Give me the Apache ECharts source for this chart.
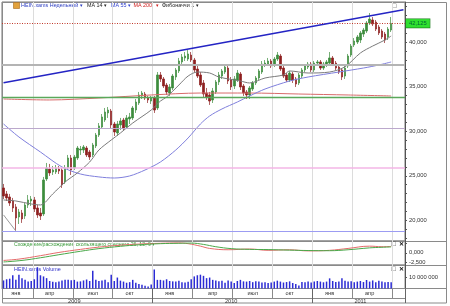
<!DOCTYPE html>
<html><head><meta charset="utf-8">
<script src="https://cdn.jsdelivr.net/npm/echarts@6/dist/echarts.min.js"></script>
<style>html,body{margin:0;padding:0;background:#fff}#c{width:450px;height:306px}</style>
</head><body><div id="c"></div>
<script>
// ---- data (weekly bars, HEIN.xams) ----
const startDate = [2009, 0, 19];
const weeksOnAxis = 131;
const openP = [23.63,22.96,22.62,22.17,21.50,20.37,20.82,20.48,21.72,22.17,
 22.28,21.38,20.82,20.71,24.64,25.76,25.43,25.43,25.76,25.65,
 24.30,25.88,27.00,25.88,27.00,27.90,27.90,28.12,27.67,27.34,
 28.35,29.58,30.48,31.27,32.06,32.28,30.82,29.81,30.71,31.27,
 30.48,31.38,31.50,32.39,33.18,33.97,34.19,33.74,33.40,33.74,
 32.62,36.33,35.88,35.20,34.30,34.87,36.10,36.78,37.79,38.24,
 38.12,38.57,38.01,37.00,36.33,35.43,34.30,34.08,33.52,34.42,
 35.54,36.21,36.66,37.11,35.76,35.09,35.76,36.44,35.09,34.42,
 34.08,34.75,35.43,35.99,36.66,37.56,37.56,37.90,37.45,38.12,
 38.46,37.11,36.33,35.76,36.44,35.88,35.43,36.21,36.89,37.22,
 37.56,36.89,37.67,37.79,37.11,37.56,37.67,38.24,37.67,37.22,
 36.89,36.21,37.34,38.57,39.70,40.03,40.26,40.93,41.27,42.17,
 42.51,42.28,41.72,41.27,40.93,40.60,41.38];
const closeP = [22.73,22.51,21.94,21.38,20.26,20.93,20.15,21.72,22.28,22.39,
 21.27,20.60,20.48,24.53,25.88,25.32,25.65,25.88,25.54,23.97,
 25.88,27.00,25.65,27.11,28.12,28.01,28.24,27.34,27.11,28.46,
 29.58,30.60,31.61,32.17,32.39,30.71,29.92,30.82,31.16,30.37,
 31.50,31.61,32.62,33.29,34.08,34.30,33.74,33.52,33.74,32.39,
 36.33,35.88,35.09,34.42,34.98,36.21,36.89,37.90,38.35,38.46,
 38.69,38.01,36.89,36.21,35.20,34.19,33.85,33.40,34.53,35.54,
 36.33,36.78,37.22,35.65,34.98,35.88,36.55,34.98,34.30,34.08,
 34.87,35.43,35.99,36.78,37.56,37.67,37.90,37.34,38.12,38.57,
 37.00,36.21,35.76,36.55,35.76,35.31,36.33,36.89,37.34,37.56,
 36.89,37.67,37.79,37.11,37.56,37.79,38.24,37.56,37.11,36.66,
 36.10,37.11,38.46,39.58,40.15,40.60,41.05,41.38,42.17,42.62,
 42.06,41.49,41.05,40.60,40.26,41.49,42.125];
const lowP = [22.39,22.17,21.61,20.93,18.80,19.58,19.70,20.15,21.38,21.61,
 20.93,20.26,20.03,20.48,24.42,24.98,25.09,25.20,25.20,23.63,
 24.08,25.65,25.09,25.65,26.78,27.34,27.56,27.11,26.78,27.11,
 28.12,29.36,30.37,31.05,31.50,30.37,29.47,29.47,30.15,30.03,
 30.26,30.82,31.27,32.06,32.96,33.63,33.52,33.18,33.07,32.06,
 32.39,35.54,34.87,34.08,33.97,34.64,35.76,36.55,37.56,37.90,
 37.90,37.79,36.66,35.99,34.98,33.85,33.52,32.96,33.18,34.19,
 35.20,35.88,36.44,35.31,34.64,34.75,35.54,34.64,33.97,33.63,
 33.63,34.53,35.20,35.76,36.44,37.22,37.34,37.11,37.22,37.90,
 36.78,35.99,35.54,35.54,35.43,34.98,35.20,35.99,36.66,37.00,
 36.66,36.66,37.34,36.89,36.89,37.22,37.45,37.34,36.89,36.44,
 35.76,35.88,37.11,38.35,39.47,39.81,39.92,40.60,41.05,41.94,
 41.83,41.27,40.82,40.37,39.92,40.26,41.16];
const highP = [24.08,23.29,22.96,22.51,21.83,21.27,21.16,21.94,22.84,22.73,
 22.62,21.72,21.38,24.87,26.44,26.33,26.10,26.21,26.10,25.88,
 26.21,27.34,27.34,27.34,28.35,28.35,28.46,28.35,27.90,28.69,
 29.81,30.93,31.94,32.62,32.73,32.51,31.05,31.16,31.50,31.50,
 31.83,32.06,32.84,33.63,34.42,34.53,34.42,33.97,33.97,33.97,
 36.66,36.66,36.10,35.43,35.31,36.44,37.11,38.24,38.69,38.91,
 39.13,38.91,38.24,37.34,36.66,35.76,34.87,34.42,34.87,35.76,
 36.66,37.00,37.56,37.34,36.10,36.21,36.89,36.66,35.31,34.64,
 35.09,35.65,36.21,37.00,37.90,38.01,38.24,38.12,38.35,38.91,
 38.69,37.34,36.55,36.78,36.66,36.10,36.55,37.11,37.56,37.79,
 37.79,37.90,38.01,38.01,37.79,38.01,38.91,38.46,37.90,37.45,
 37.11,37.34,38.69,39.81,40.48,40.82,41.27,41.61,42.39,43.29,
 42.84,42.51,41.94,41.49,41.16,41.72,42.84];
const volumeM = [7.0,8.0,8.5,11.5,7.5,12.0,9.0,7.5,6.0,6.5,
 8.0,18.5,11.5,10.5,9.0,6.5,5.8,5.5,6.0,7.0,
 7.5,7.5,7.2,7.5,6.0,6.2,7.0,7.8,6.5,15.5,
 7.5,6.5,7.0,7.5,5.5,12.0,6.5,9.5,6.8,6.0,
 5.0,5.5,7.5,5.0,4.0,3.2,2.4,1.8,3.5,16.5,
 7.5,7.5,7.0,8.0,6.5,6.2,6.0,6.8,5.5,5.2,
 5.8,8.0,10.5,11.5,12.0,11.0,9.0,9.5,7.5,7.0,
 6.2,6.8,5.0,7.0,6.0,4.8,6.5,7.5,6.2,6.0,
 6.5,5.5,6.2,6.0,5.2,5.5,4.8,5.2,6.0,6.8,
 6.0,5.2,5.6,6.2,4.8,3.8,2.6,5.6,5.4,6.0,
 5.2,6.0,6.5,6.0,5.4,6.0,8.8,6.5,5.6,6.0,
 8.8,6.8,6.0,6.2,5.4,6.0,6.5,5.6,7.4,6.0,
 7.0,5.4,6.8,6.0,5.4,5.6,5.4];
const ma14 = [[0,22.28],[4,22.17],[9,21.83],[12,21.72],[16,22.96],[20,24.30],[24,25.32],[28,26.55],[31,27.90],[35,29.02],[38,29.81],[42,30.93],[48,32.39],[51,33.40],[53,33.85],[57,35.20],[60,36.21],[63,36.66],[67,36.55],[70,36.10],[77,35.65],[80,35.43],[85,35.99],[91,36.33],[93,36.78],[99,36.55],[106,36.66],[111,37.25],[116,38.80],[120,39.58],[124,40.26],[126,40.71]];
const ma55 = [[0,30.82],[5,29.36],[12,27.67],[19,25.99],[25,25.20],[31,24.87],[36,24.75],[41,24.98],[46,25.65],[51,26.55],[56,27.90],[60,29.25],[64,30.82],[67,31.72],[71,32.51],[76,33.29],[80,33.97],[85,34.75],[93,35.65],[99,36.10],[109,36.66],[117,37.11],[122,37.45],[126,37.79]];
const ma200 = [[0,33.63],[15,33.52],[31,33.74],[48,34.08],[64,34.30],[80,34.30],[96,34.19],[112,34.08],[126,33.97]];
const macdLine = [[0,-2.0],[5,-1.65],[12,-0.75],[18,0.1],[25,0.9],[31,1.5],[38,2.0],[44,2.3],[51,2.5],[57,2.6],[60,2.4],[64,1.75],[67,1.15],[73,0.8],[80,1.0],[86,0.65],[93,0.8],[99,0.5],[106,0.65],[112,1.15],[119,1.75],[123,1.6],[126,1.65]];
const signalLine = [[0,-2.4],[6,-2.0],[12,-1.3],[18,-0.5],[25,0.4],[31,1.1],[38,1.7],[44,2.1],[51,2.4],[57,2.5],[61,2.55],[65,2.2],[69,1.6],[74,1.1],[80,0.9],[86,0.85],[93,0.7],[99,0.6],[106,0.55],[112,0.8],[119,1.3],[123,1.45],[126,1.55]];
const fibLevels = [37.45, 33.85, 30.37, 25.88, 18.80];
const lastPrice = 42.125;
const trendLine = [[0, 35.45], [130, 43.67]];
const fibDiagonal = [[0, 20.6], [4, 18.80]];
const priceLabelTicks = [20, 25, 30, 35, 40];
const priceMinorTicks = [18,19,20,21,22,23,24,25,26,27,28,29,30,31,32,33,34,35,36,37,38,39,40,41,42,43,44];
const macdLabelTicks = [0, -2.5];
const volumeLabelTicks = [10];
const monthLabels = {4:'янв',15:'апр',29:'июл',41:'окт',54:'янв',68:'апр',81:'июл',93:'окт',106:'янв',119:'апр'};
const quarterStarts = [10,23,36,49,62,75,88,101,114,127];
const yearLabels = {23:'2009',74:'2010',116:'2011'};
const yearStarts = [49, 101];

// ---- build ----
const cats = [];
const d0 = Date.UTC(startDate[0], startDate[1], startDate[2]);
for (let k = 0; k < weeksOnAxis; k++) cats.push(new Date(d0 + k * 7 * 864e5).toISOString().slice(0, 10));
const candles = openP.map((o, k) => [o, closeP[k], lowP[k], highP[k]]);
const F = 'Liberation Sans, Arial, sans-serif';
const fmt3 = v => v.toFixed(3).replace('.', ',');
const fmtVol = v => String(Math.round(v * 1e6)).replace(/\B(?=(\d{3})+(?!\d))/g, ' ');
const qf = i => quarterStarts.includes(i);
const fibColors = ['#b4b4b4', '#5aa85a', '#bba8cc', '#f3b6e6', '#9c9cf2'];
const fibWidths = [2, 1.3, 1.2, 1.6, 1.2];
const vSplit = {show: true, interval: qf, lineStyle: {color: '#dcdcdc', width: 1}};

const chart = echarts.init(document.getElementById('c'), null, {renderer: 'canvas'});
const txt = (x, y, t, fill, extra) => Object.assign({type: 'text', x: x, y: y, silent: true,
  style: Object.assign({text: t, fill: fill, fontSize: 5.4, fontFamily: F, verticalAlign: 'middle'}, extra || {})});
const hl = (x1, y, x2, c) => ({type: 'line', silent: true, shape: {x1: x1, y1: y, x2: x2, y2: y}, style: {stroke: c || '#8a8a8a', lineWidth: 1}});

chart.setOption({
  animation: false,
  grid: [
    {left: 2, top: 2, width: 403, height: 239, show: true, borderColor: '#777', borderWidth: 1},
    {left: 2, top: 241, width: 403, height: 24, show: true, borderColor: '#8a8a8a', borderWidth: 1},
    {left: 2, top: 265, width: 403, height: 23.5, show: true, borderColor: '#8a8a8a', borderWidth: 1}
  ],
  xAxis: [
    {type: 'category', gridIndex: 0, data: cats, boundaryGap: true, axisLine: {show: false}, axisTick: {show: false}, axisLabel: {show: false}, splitLine: vSplit},
    {type: 'category', gridIndex: 1, data: cats, boundaryGap: true, axisLine: {show: false}, axisTick: {show: false}, axisLabel: {show: false}, splitLine: vSplit},
    {type: 'category', gridIndex: 2, data: cats, boundaryGap: true, position: 'bottom',
      axisLine: {show: true, lineStyle: {color: '#8a8a8a'}},
      axisTick: {show: true, interval: qf, length: 9.5, lineStyle: {color: '#8a8a8a'}},
      axisLabel: {show: true, interval: i => monthLabels[i] !== undefined, formatter: (v, i) => monthLabels[i] || '', margin: 1.5, fontSize: 5.6, color: '#333', fontFamily: F},
      splitLine: vSplit},
    {type: 'category', gridIndex: 2, data: cats, boundaryGap: true, position: 'bottom',
      axisLine: {show: false},
      axisTick: {show: true, interval: i => yearStarts.includes(i), length: 14.5, lineStyle: {color: '#666'}},
      axisLabel: {show: true, interval: i => yearLabels[i] !== undefined, formatter: (v, i) => yearLabels[i] || '', margin: 9.5, fontSize: 5.6, color: '#333', fontFamily: F},
      splitLine: {show: false}}
  ],
  yAxis: [
    {type: 'value', gridIndex: 0, position: 'right', min: 17.67, max: 44.53,
      axisLine: {show: true, lineStyle: {color: '#555'}},
      axisTick: {show: true, inside: false, length: 2, customValues: priceMinorTicks, lineStyle: {color: '#555'}},
      axisLabel: {show: true, customValues: priceLabelTicks, formatter: fmt3, fontSize: 5.8, color: '#333', margin: 4, fontFamily: F},
      splitLine: {show: false}},
    {type: 'value', gridIndex: 1, position: 'right', min: -3.2, max: 3.1,
      axisLine: {show: true, lineStyle: {color: '#555'}},
      axisTick: {show: true, length: 2, customValues: [-2.5, 0, 2.5], lineStyle: {color: '#555'}},
      axisLabel: {show: true, customValues: macdLabelTicks, formatter: fmt3, fontSize: 5.8, color: '#333', margin: 4, fontFamily: F},
      splitLine: {show: false}},
    {type: 'value', gridIndex: 2, position: 'right', min: 0, max: 20.4,
      axisLine: {show: true, lineStyle: {color: '#555'}},
      axisTick: {show: true, length: 2, customValues: volumeLabelTicks, lineStyle: {color: '#555'}},
      axisLabel: {show: true, customValues: volumeLabelTicks, formatter: fmtVol, fontSize: 5.8, color: '#333', margin: 4, fontFamily: F},
      splitLine: {show: false}}
  ],
  series: [
    {type: 'candlestick', name: 'HEIN.xams', xAxisIndex: 0, yAxisIndex: 0, data: candles, barWidth: 2,
      itemStyle: {color: '#3c8c3c', color0: '#8e1f1f', borderColor: '#3c8c3c', borderColor0: '#8e1f1f', borderWidth: 0.7},
      markLine: {symbol: ['none', 'none'], silent: true, animation: false, label: {show: false},
        data: fibLevels.map((v, k) => ({yAxis: v, lineStyle: {color: fibColors[k], width: fibWidths[k], type: 'solid'}, label: {show: false}}))
          .concat([
            {yAxis: lastPrice, lineStyle: {color: '#c0392b', width: 1, type: [1, 1.5]},
              label: {show: true, position: 'end', distance: 1, formatter: fmt3(lastPrice), fontSize: 5.8, fontFamily: F, color: '#063',
                backgroundColor: '#2fe02f', borderColor: '#1a7a1a', borderWidth: 0.6, padding: [1.5, 3, 1, 3]}},
            [{coord: trendLine[0], lineStyle: {color: '#2424c4', width: 1.5, type: 'solid'}}, {coord: trendLine[1], lineStyle: {color: '#2424c4', width: 1.5, type: 'solid'}}],
            [{coord: fibDiagonal[0], lineStyle: {color: '#9a9a9a', width: 1, type: 'solid'}}, {coord: fibDiagonal[1], lineStyle: {color: '#9a9a9a', width: 1, type: 'solid'}}]
          ])}},
    {type: 'line', name: 'MA 200', xAxisIndex: 0, yAxisIndex: 0, data: ma200, showSymbol: false, smooth: 0.3, lineStyle: {color: '#d86a6a', width: 1}},
    {type: 'line', name: 'MA 55', xAxisIndex: 0, yAxisIndex: 0, data: ma55, showSymbol: false, smooth: 0.3, lineStyle: {color: '#7f7fdc', width: 1}},
    {type: 'line', name: 'MA 14', xAxisIndex: 0, yAxisIndex: 0, data: ma14, showSymbol: false, smooth: 0.3, lineStyle: {color: '#7a7a7a', width: 1}},
    {type: 'line', name: 'MACD', xAxisIndex: 1, yAxisIndex: 1, data: macdLine, showSymbol: false, smooth: 0.4, lineStyle: {color: '#e46a6a', width: 1}},
    {type: 'line', name: 'Signal', xAxisIndex: 1, yAxisIndex: 1, data: signalLine, showSymbol: false, smooth: 0.4, lineStyle: {color: '#4aa84a', width: 1}},
    {type: 'bar', name: 'Volume', xAxisIndex: 2, yAxisIndex: 2, data: volumeM, barWidth: 1.5, itemStyle: {color: '#2b2bd4'}}
  ],
  graphic: [
    {type: 'rect', silent: true, shape: {x: 2.5, y: 2.5, width: 444, height: 300.5}, style: {fill: 'none', stroke: '#8a8a8a', lineWidth: 1}},
    hl(2, 241.5, 447), hl(2, 265.5, 447), hl(2, 288.5, 447), hl(2, 298.5, 405),
    {type: 'rect', silent: true, shape: {x: 13.5, y: 2.5, width: 6, height: 6}, style: {fill: '#e2a23c', stroke: '#a86a1a', lineWidth: 0.6}},
    txt(21, 6, 'HEIN.xams Недельный', '#2b3cc0'),
    txt(79.5, 6, '▾', '#2b3cc0'),
    txt(87, 6, 'MA 14', '#222'),
    txt(103.5, 6, '▾', '#222'),
    txt(111, 6, 'MA 55', '#3040d0'),
    txt(127.5, 6, '▾', '#3040d0'),
    txt(133.5, 6, 'MA 200', '#d02020'),
    txt(155.5, 6, '▾', '#d02020'),
    txt(162, 6, 'Фибоначчи 1', '#222'),
    txt(196, 6, '▾', '#222'),
    txt(392, 6, '□', '#333', {fontSize: 7}),
    txt(14, 245, 'Схождение/расхождение скользящего среднего 26, 12, 9 ▾', '#3a9a3a', {fontSize: 5.2}),
    txt(391.5, 244.5, '□', '#333', {fontSize: 7}),
    txt(398.5, 244.5, '✕', '#111', {fontSize: 6, fontWeight: 'bold'}),
    txt(14, 270, 'HEIN.xams Volume', '#3030c8'),
    txt(391.5, 269, '□', '#333', {fontSize: 7}),
    txt(398.5, 269, '✕', '#111', {fontSize: 6, fontWeight: 'bold'})
  ]
});
</script>
</body></html>
